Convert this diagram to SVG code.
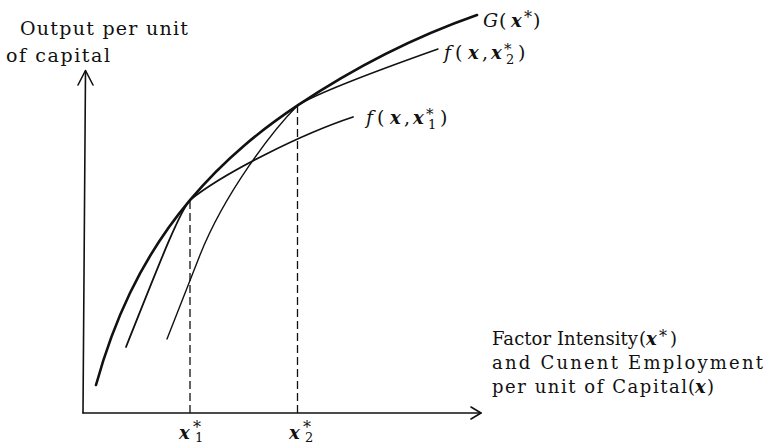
<svg xmlns="http://www.w3.org/2000/svg" width="769" height="446" viewBox="0 0 769 446">
<style>
text{font-family:"DejaVu Serif","Liberation Serif",serif;fill:#111}
.t19{font-size:19px}
.t18{font-size:18px}
.v{font-style:italic;font-weight:bold}
.it{font-style:italic}
.ax{fill:none;stroke:#111;stroke-width:1.6;stroke-linecap:round;stroke-linejoin:round}
.cv{fill:none;stroke:#111;stroke-linecap:round}
.ds{fill:none;stroke:#111;stroke-width:1.3;stroke-dasharray:8 4}
</style>
<rect width="769" height="446" fill="#fff"/>
<g id="axes">
<line class="ax" x1="83" y1="413" x2="85.5" y2="71"/>
<polyline class="ax" points="78,85 85.5,70.5 93,85"/>
<line class="ax" x1="83" y1="413" x2="481" y2="413"/>
<polyline class="ax" points="471,407 481,413 471,419"/>
</g>
<g id="guides">
<line class="ds" x1="190" y1="413" x2="190" y2="201"/>
<line class="ds" x1="297.5" y1="413" x2="297.5" y2="106"/>
</g>
<g id="curves">
<path id="G" class="cv" stroke-width="2.6" d="M96,385 C107.3,344.1 118.7,316.5 130,293 C150,251.5 170,223.8 190,200.1 C226,157.4 262,129.3 298,105.2 C357.7,65.3 417,36 477,15"/>
<path id="f1" class="cv" stroke-width="1.8" d="M126,347 C156,272 178,214.2 190,200 C225,172 303,133.5 353,117"/>
<path id="f2" class="cv" stroke-width="1.4" d="M167,339 L200,255 C225,192.5 273,130 298,105 C318,93 390,66 438,49"/>
</g>
<g id="labels">
<text class="t19" x="20" y="35" textLength="168">Output per unit</text>
<text class="t19" x="6" y="62" textLength="104">of capital</text>

<text class="t18" x="492" y="345" textLength="146">Factor Intensity</text>
<text class="t18" x="639" y="345">(</text>
<text class="t18 v" x="646" y="345">x</text>
<text x="659" y="342" font-size="16">*</text>
<text class="t18" x="670" y="345">)</text>
<text class="t18" x="492" y="369" textLength="271">and Cunent Employment</text>
<text class="t18" x="492" y="393" textLength="195">per unit of Capital</text>
<text class="t18" x="688" y="393">(</text>
<text class="t18 v" x="695" y="393">x</text>
<text class="t18" x="707" y="393">)</text>

<text class="t19 it" x="483" y="27">G</text>
<text class="t19" x="499" y="27">(</text>
<text class="t18 v" x="511" y="27">x</text>
<text x="524" y="23" font-size="16">*</text>
<text class="t19" x="533" y="27">)</text>

<text class="t19 it" x="444" y="59">f</text>
<text class="t19" x="455" y="59">(</text>
<text class="t18 v" x="468" y="59">x</text>
<text class="t19" x="482" y="59">,</text>
<text class="t18 v" x="491" y="59">x</text>
<text x="504" y="54" font-size="15">*</text>
<text x="506" y="64" font-size="13">2</text>
<text class="t19" x="518" y="59">)</text>

<text class="t19 it" x="366" y="124">f</text>
<text class="t19" x="377" y="124">(</text>
<text class="t18 v" x="390" y="124">x</text>
<text class="t19" x="404" y="124">,</text>
<text class="t18 v" x="413" y="124">x</text>
<text x="426" y="119" font-size="15">*</text>
<text x="428" y="129" font-size="13">1</text>
<text class="t19" x="440" y="124">)</text>

<text class="t18 v" x="179" y="439">x</text>
<text x="193" y="433" font-size="16">*</text>
<text x="195" y="442" font-size="13">1</text>
<text class="t18 v" x="289" y="439">x</text>
<text x="303" y="433" font-size="16">*</text>
<text x="305" y="442" font-size="13">2</text>
</g>
</svg>
